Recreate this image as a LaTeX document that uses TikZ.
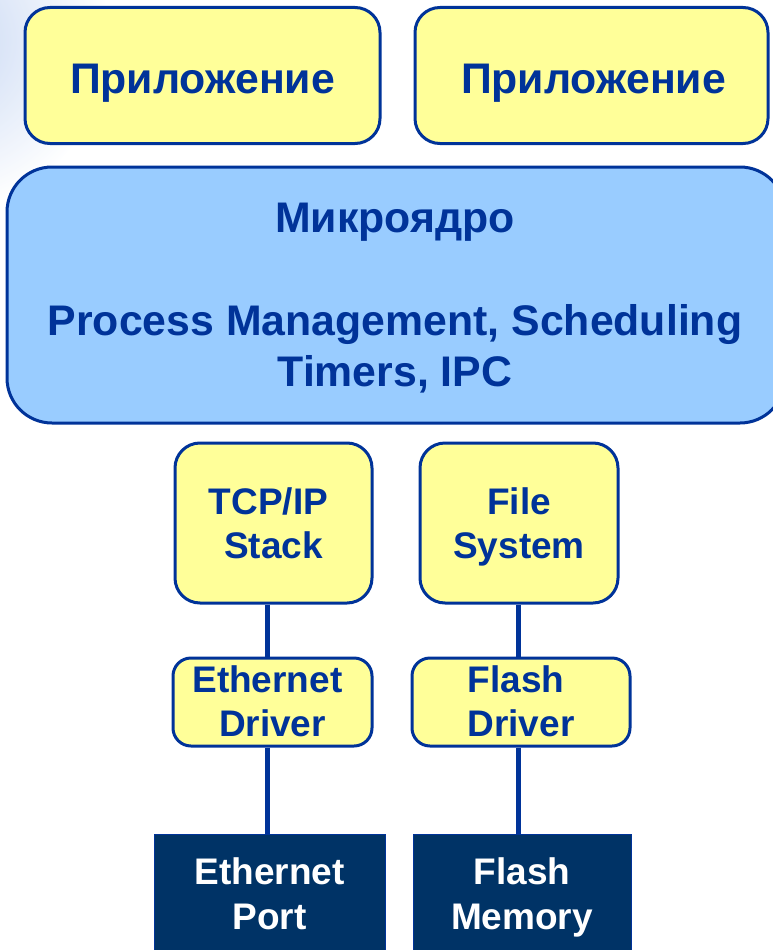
\documentclass[tikz,border=0pt]{standalone}
\usepackage{fontspec}
\setmainfont{Liberation Sans}
\definecolor{ink}{HTML}{003399}
\definecolor{paleyellow}{HTML}{FFFF99}
\definecolor{kernelblue}{HTML}{99CCFF}
\definecolor{hwnavy}{HTML}{003366}
\definecolor{haze}{HTML}{A9C2EE}
\setlength{\tabcolsep}{0pt}
\tikzset{
  box/.style={draw=ink, line width=3pt, inner sep=0pt},
  appbox/.style={box, fill=paleyellow, rounded corners=25pt},
  kernelbox/.style={box, fill=kernelblue, rounded corners=45pt},
  svcbox/.style={box, fill=paleyellow, rounded corners=25pt},
  drvbox/.style={box, fill=paleyellow, rounded corners=18pt},
  hwbox/.style={draw=ink, line width=1pt, fill=hwnavy, inner sep=0pt},
  % captions: anchored on the baseline of their first line
  bigcaption/.style={anchor=base, inner sep=0pt, text=ink,
    font=\bfseries\fontsize{42.8}{51.5}\selectfont},
  caption/.style={anchor=base, inner sep=0pt, text=ink,
    font=\bfseries\fontsize{37}{44}\selectfont},
  hwcaption/.style={caption, text=white, font=\bfseries\fontsize{37}{45}\selectfont},
  link/.style={draw=ink, line width=5pt}
}
\newcommand{\lines}[1]{\begin{tabular}[t]{c}#1\end{tabular}}
% a word followed by a kept trailing space
\newcommand{\spaced}[1]{#1\hphantom{\ }}
\begin{document}
\begin{tikzpicture}[x=1pt, y=-1pt]
\clip (0,0) rectangle (773,950);
\fill[white] (0,0) rectangle (773,950);
% soft blue haze in the upper left corner
\shade[inner color=haze, outer color=white] (-60,40) circle (170);
\fill[white, opacity=0.35] (0,0) rectangle (773,950);

% applications
\node[appbox, minimum width=355pt, minimum height=136pt] (app1) at (202.5,75.5) {};
\node[appbox, minimum width=353pt, minimum height=136pt] (app2) at (591.5,75.5) {};
\node[bigcaption] (app1t) at (202.5,93) {Приложение};
\node[bigcaption] (app2t) at (593.5,93) {Приложение};

% microkernel
\node[kernelbox, minimum width=778pt, minimum height=256pt] (kernel) at (396,295) {};
\node[bigcaption] (kernelt) at (395,232)
  {\lines{Микроядро\\ \\Process Management, Scheduling\\Timers, IPC}};

% services
\node[svcbox, minimum width=197pt, minimum height=160pt] (tcp) at (273.5,523) {};
\node[svcbox, minimum width=198pt, minimum height=160pt] (fs) at (519,523) {};
\node[caption] (tcpt) at (273.5,514) {\lines{\spaced{TCP/IP}\\Stack}};
\node[caption] (fst) at (519,514) {\lines{File\\System}};

% drivers
\node[drvbox, minimum width=199pt, minimum height=88pt] (edrv) at (272.5,702) {};
\node[drvbox, minimum width=218pt, minimum height=88pt] (fdrv) at (521,702) {};
\node[caption] (edrvt) at (272.5,692) {\lines{\spaced{Ethernet}\\Driver}};
\node[caption] (fdrvt) at (521,692) {\lines{\spaced{Flash}\\Driver}};

% hardware
\node[hwbox, minimum width=231pt, minimum height=124pt, anchor=north] (eport) at (269.5,834) {};
\node[hwbox, minimum width=218pt, minimum height=124pt, anchor=north] (fmem) at (522,834) {};
\node[hwcaption] (eportt) at (269.5,884) {\lines{Ethernet\\Port}};
\node[hwcaption] (fmemt) at (522,884) {\lines{Flash\\Memory}};

% connections
\draw[link] ([xshift=-6.5pt]tcp.south) -- ([xshift=-6.5pt]tcp.south |- edrv.north);
\draw[link] ([xshift=-5.5pt]edrv.south) -- ([xshift=-5.5pt]edrv.south |- eport.north);
\draw[link] ([xshift=-1pt]fs.south) -- ([xshift=-1pt]fs.south |- fdrv.north);
\draw[link] ([xshift=-3pt]fdrv.south) -- ([xshift=-3pt]fdrv.south |- fmem.north);
\end{tikzpicture}
\end{document}
